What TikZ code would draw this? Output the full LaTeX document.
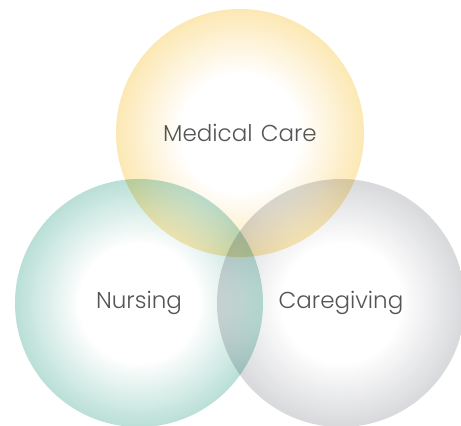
\documentclass[tikz,border=0pt]{standalone}
\usepackage{fontspec}
\newfontfamily\pop{Poppins Light}
\definecolor{ycol}{RGB}{252,230,172}
\definecolor{tcol}{RGB}{178,220,211}
\definecolor{gcol}{RGB}{212,213,216}
\definecolor{txt}{RGB}{85,85,85}
\pgfdeclareradialshading{yshade}{\pgfpointorigin}{color(0bp)=(white); color(12bp)=(white); color(25bp)=(ycol); color(50bp)=(ycol)}
\pgfdeclareradialshading{tshade}{\pgfpointorigin}{color(0bp)=(white); color(12bp)=(white); color(25bp)=(tcol); color(50bp)=(tcol)}
\pgfdeclareradialshading{gshade}{\pgfpointorigin}{color(0bp)=(white); color(12bp)=(white); color(25bp)=(gcol); color(50bp)=(gcol)}
\begin{document}
\begin{tikzpicture}[x=1pt,y=-1pt,
  bubble/.style={circle, minimum size=248pt, inner sep=0pt, font=\pop\fontsize{23}{27}\selectfont, text=txt, fill opacity=0.9, text opacity=1}]
\useasboundingbox (0,0) rectangle (461,426);
\fill[white] (0,0) rectangle (461,426);
\begin{scope}[blend group=multiply]
\node[bubble, shading=yshade] (med) at (240,133) {Medical\hspace{2pt} Care};
\node[bubble, shading=tshade] (nur) at (139,303) {Nursing};
\node[bubble, shading=gshade] (care) at (341,303) {Caregiving};
\end{scope}
\end{tikzpicture}
\end{document}
